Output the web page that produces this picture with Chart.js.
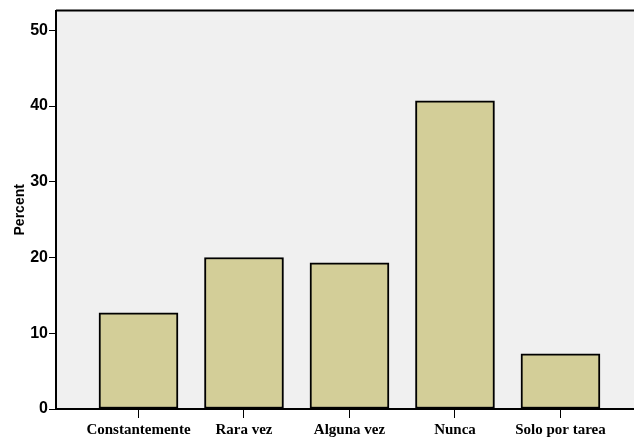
<!DOCTYPE html>
<html>
<head>
<meta charset="utf-8">
<script src="https://cdn.jsdelivr.net/npm/chart.js@4/dist/chart.umd.min.js"></script>
<style>
  html, body { margin: 0; padding: 0; background: #fff; overflow: hidden; }
  #wrap { width: 634px; height: 443px; }
</style>
</head>
<body>
<div id="wrap"><canvas id="myChart" width="634" height="443"></canvas></div>
<script>
//datos del gráfico
const categories = ["Constantemente", "Rara vez", "Alguna vez", "Nunca", "Solo por tarea"];
const percent = [12.7, 20.0, 19.3, 40.7, 7.3];
const yTicks = [0, 10, 20, 30, 40, 50];

//fondo gris del área del gráfico y línea superior
const plotBackground = {
  id: "plotBackground",
  beforeDraw(chart) {
    const { ctx, chartArea } = chart;
    ctx.save();
    ctx.fillStyle = "#f0f0f0";
    ctx.fillRect(chartArea.left, chartArea.top, chartArea.right - chartArea.left, chartArea.bottom - chartArea.top);
    ctx.strokeStyle = "#000";
    ctx.lineWidth = 2;
    ctx.beginPath();
    ctx.moveTo(chartArea.left, chartArea.top);
    ctx.lineTo(chartArea.right, chartArea.top);
    ctx.stroke();
    ctx.restore();
  }
};

const ctx = document.getElementById("myChart").getContext("2d");
new Chart(ctx, {
  type: "bar",
  data: {
    datasets: [
      {
        data: percent.map((v, i) => ({ x: i, y: v })),
        backgroundColor: "#d3ce98",
        borderColor: "#000",
        borderWidth: 2,
        borderSkipped: false,
        barThickness: 79,
      },
    ],
  },
  options: {
    responsive: false,
    animation: false,
    layout: { padding: { top: 10, right: 0, bottom: 0, left: 0 } },
    plugins: { legend: { display: false }, tooltip: { enabled: false } },
    scales: {
      x: {
        type: "linear",
        offset: false,
        min: -0.782,
        max: 4.697,
        afterBuildTicks: (scale) => {
          scale.ticks = categories.map((c, i) => ({ value: i }));
        },
        afterFit: (scale) => { scale.height = 34; },
        grid: { offset: false, drawOnChartArea: false, drawTicks: true, tickLength: 9, color: "#000", lineWidth: 1 },
        border: { display: true, color: "#000", width: 2 },
        ticks: {
          color: "#000",
          padding: 3,
          maxRotation: 0,
          autoSkip: false,
          font: { family: "'Liberation Serif', 'Times New Roman', serif", size: 15, weight: "bold" },
          callback: (value) => categories[value],
        },
      },
      y: {
        min: 0,
        max: 52.6,
        afterBuildTicks: (scale) => {
          scale.ticks = yTicks.map((v) => ({ value: v }));
        },
        afterFit: (scale) => { scale.width = 56; },
        grid: { drawOnChartArea: false, drawTicks: true, tickLength: 7, color: "#000", lineWidth: 1 },
        border: { display: true, color: "#000", width: 2 },
        title: {
          display: true,
          text: "Percent",
          color: "#000",
          padding: { top: 12, bottom: 4 },
          font: { family: "'Liberation Sans', Arial, sans-serif", size: 14, weight: "bold" },
        },
        ticks: {
          color: "#000",
          padding: 1,
          font: { family: "'Liberation Sans', Arial, sans-serif", size: 16, weight: "bold" },
        },
      },
    },
  },
  plugins: [plotBackground],
});
</script>
</body>
</html>
